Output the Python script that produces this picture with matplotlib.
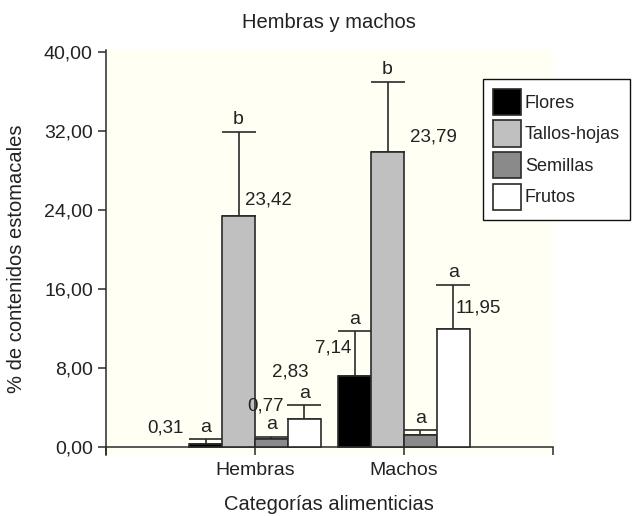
import numpy as np
import matplotlib.pyplot as plt

plt.rcParams['font.family'] = ['Liberation Sans', 'DejaVu Sans']

# --- data ---
groups = ['Hembras', 'Machos']
categories = ['Flores', 'Tallos-hojas', 'Semillas', 'Frutos']

flores = [0.31, 7.14]
tallos_hojas = [23.42, 29.9]
semillas = [0.77, 1.2]
frutos = [2.83, 11.95]

# upper error bars
flores_err = [0.5, 4.6]
tallos_hojas_err = [8.5, 7.1]
semillas_err = [0.25, 0.5]
frutos_err = [1.4, 4.5]

# letters above the caps
flores_sig = ['a', 'a']
tallos_hojas_sig = ['b', 'b']
semillas_sig = ['a', 'a']
frutos_sig = ['a', 'a']

# numbers printed next to the bars (as in the original)
flores_txt = ['0,31', '7,14']
tallos_hojas_txt = ['23,42', '23,79']
semillas_txt = ['0,77', None]
frutos_txt = ['2,83', '11,95']

yticks = [0, 8, 16, 24, 32, 40]

# --- styling / layout ---
colors = ['#000000', '#c0c0c0', '#8a8a8a', '#ffffff']
edge = '#2a2a2a'
txt_col = '#222222'
width = 0.22
# offsets (points) of the value labels from the bar top
txt_offsets = {
    'Flores': [(-29, 11.5), (-15.5, 20.5)],
    'Tallos-hojas': [(21.6, 11.3), (32.8, 10.8)],
    'Semillas': [(-4, 24), None],
    'Frutos': [(-9.7, 34), (18.4, 15)],
}

series = [
    (flores, flores_err, flores_sig, flores_txt),
    (tallos_hojas, tallos_hojas_err, tallos_hojas_sig, tallos_hojas_txt),
    (semillas, semillas_err, semillas_sig, semillas_txt),
    (frutos, frutos_err, frutos_sig, frutos_txt),
]

fig = plt.figure(figsize=(6.33, 5.16), dpi=100)
ax = fig.add_axes([106 / 633, 1 - 455.4 / 516, (553 - 106) / 633, (455.4 - 50) / 516])
ax.set_facecolor('#fffff4')

x = np.arange(len(groups))
for i, (cat, (vals, errs, sig, txt)) in enumerate(zip(categories, series)):
    xi = x + (i - 1.5) * width
    ax.bar(xi, vals, width, color=colors[i], edgecolor=edge, linewidth=1.2,
           label=cat, zorder=3)
    ax.errorbar(xi, vals, yerr=[np.zeros(len(vals)), errs], fmt='none',
                ecolor=edge, elinewidth=1.2, capsize=11.9, capthick=1.2, zorder=2)
    tops = np.array(vals) + np.array(errs)
    for j in range(len(groups)):
        ax.annotate(sig[j], (xi[j], tops[j]), xytext=(0, 8.6),
                    textcoords='offset points', ha='center', va='center',
                    fontsize=14, color=txt_col)
        if txt[j] is not None:
            ax.annotate(txt[j], (xi[j], vals[j]), xytext=txt_offsets[cat][j],
                        textcoords='offset points', ha='center', va='center',
                        fontsize=13.5, color=txt_col)

ax.set_xlim(-1, 2)
ax.set_ylim(-0.85, 40.2)
ax.spines['top'].set_visible(False)
ax.spines['right'].set_visible(False)
ax.spines['bottom'].set_position(('data', 0))
for s in ['left', 'bottom']:
    ax.spines[s].set_color(edge)
    ax.spines[s].set_linewidth(1.1)

ax.set_yticks(yticks)
ax.set_yticklabels([f'{v:.2f}'.replace('.', ',') for v in yticks])
ax.set_xticks([-1, 0, 1, 2])
ax.set_xticklabels([''] + groups + [''])
ax.tick_params(axis='both', colors=edge, labelcolor=txt_col, labelsize=14,
               length=6, width=1.1)
ax.tick_params(axis='x', pad=5)

fig.text(329 / 633, 1 - 22 / 516, 'Hembras y machos', ha='center', va='center',
         fontsize=14.5, color=txt_col)
fig.text(329 / 633, 1 - 505 / 516, 'Categorías alimenticias', ha='center',
         va='center', fontsize=14.5, color=txt_col)
fig.text(17 / 633, 1 - 259 / 516, '% de contenidos estomacales', ha='center',
         va='center', rotation=90, fontsize=14.5, color=txt_col)

leg = ax.legend(loc='upper left', bbox_to_anchor=(483 / 633, 1 - 79 / 516),
                bbox_transform=fig.transFigure, borderaxespad=0, fontsize=13,
                frameon=True, fancybox=False, framealpha=1, edgecolor='#111111',
                borderpad=0.55, handlelength=1.54, handleheight=1.85,
                handletextpad=0.22, labelspacing=0.3)
leg.get_frame().set_linewidth(1.0)
for t in leg.get_texts():
    t.set_color(txt_col)

fig.savefig('out.png', dpi=100)
